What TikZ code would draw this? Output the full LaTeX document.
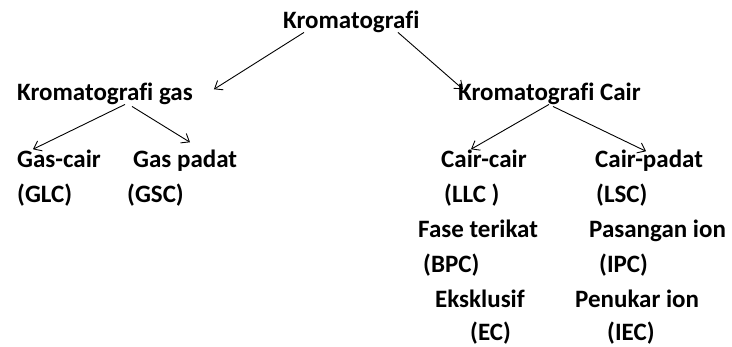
\documentclass[tikz,border=0pt]{standalone}
\usepackage{fontspec}
\setmainfont[Ligatures=CommonOff]{Carlito}
\usepackage{tikz}
\usetikzlibrary{arrows.meta,positioning,calc}

\begin{document}
\begin{tikzpicture}[
    x=1pt, y=-1pt,
    item/.style={inner sep=0pt, anchor=base west, font=\bfseries\fontsize{25}{30}\selectfont},
    arrow/.style={-{Straight Barb[length=7pt,width=11pt]}, line width=0.9pt}
]
\useasboundingbox (0,0) rectangle (732,346);

% Root
\node (root) [item] at (283,28) {Kromatografi};

% Main branches
\node (kgas) [item] at (17,100) {Kromatografi gas};
\node (kcair) [item] at (458,100) {Kromatografi Cair};

% Gas branch
\node (gascair) [item] at (17,167) {Gas-cair};
\node (gaspadat) [item] at (133,167) {Gas padat};
\node (glc) [item] at (17,202) {(GLC)};
\node (gsc) [item] at (127,202) {(GSC)};

% Liquid branch
\node (caircair) [item] at (441,167) {Cair-cair};
\node (cairpadat) [item] at (595,167) {Cair-padat};
\node (llc) [item] at (444,202) {(LLC )};
\node (lsc) [item] at (596,202) {(LSC)};
\node (fase) [item] at (418,237) {Fase terikat};
\node (pasangan) [item] at (589,237) {Pasangan ion};
\node (bpc) [item] at (423,272) {(BPC)};
\node (ipc) [item] at (599,272) {(IPC)};
\node (eksklusif) [item] at (435,307) {Eksklusif};
\node (penukar) [item] at (575,307) {Penukar ion};
\node (ec) [item] at (470,340) {(EC)};
\node (iec) [item] at (607,340) {(IEC)};

% Arrows
\draw [arrow] ([xshift=21pt]root.south west) -- ([shift={(21pt,-7pt)}]kgas.north east);
\draw [arrow] ([xshift=115pt]root.south west) -- ([shift={(5pt,-7pt)}]kcair.north west);

\draw [arrow] ([xshift=108pt]kgas.south west) -- ([xshift=16pt]gascair.north west);
\draw [arrow] ([shift={(115pt,-2pt)}]kgas.south west) -- ([shift={(57pt,7pt)}]gaspadat.north west);

\draw [arrow] ([xshift=91pt]kcair.south west) -- ([xshift=30pt]caircair.north west);
\draw [arrow] ([shift={(95pt,-2pt)}]kcair.south west) -- ([shift={(51pt,-2pt)}]cairpadat.north west);

\end{tikzpicture}
\end{document}
